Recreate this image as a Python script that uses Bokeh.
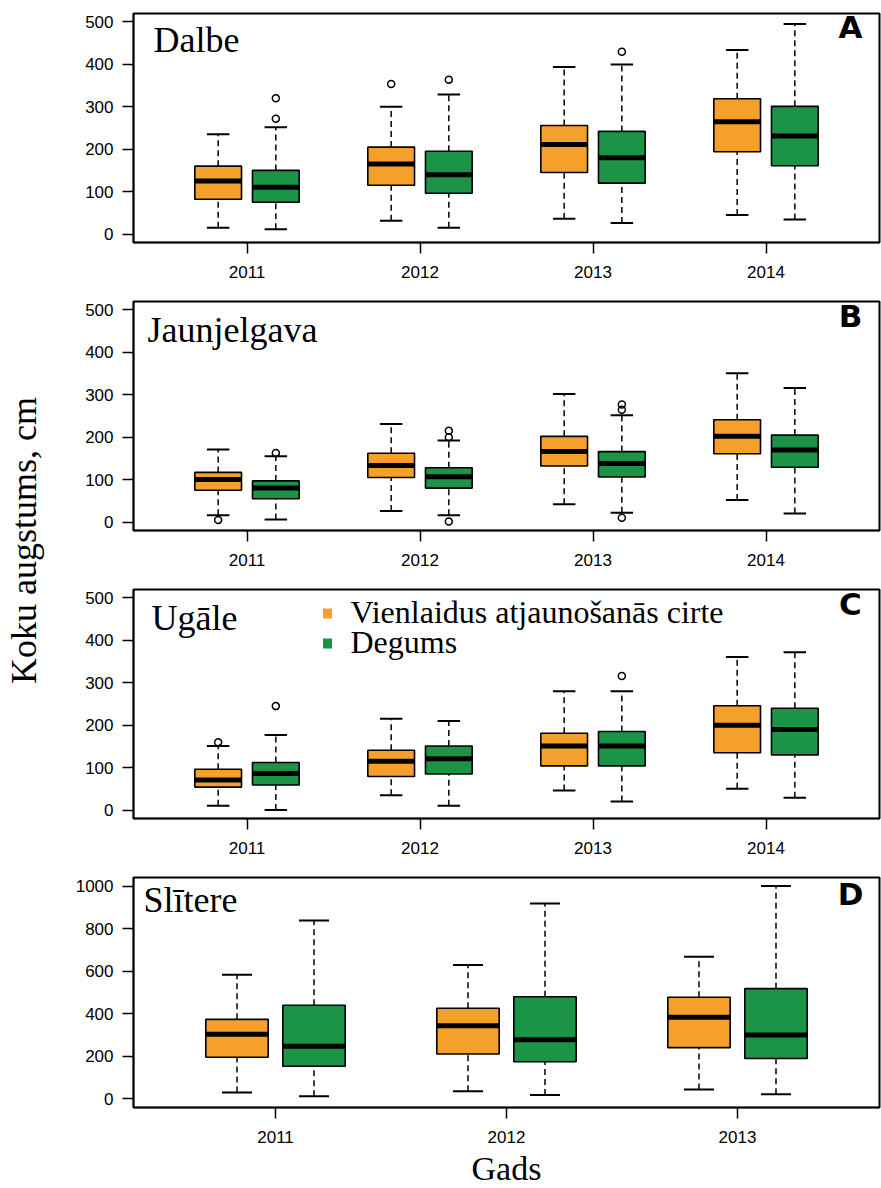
import math
from bokeh.plotting import figure
from bokeh.layouts import row, column
from bokeh.models import Range1d, FixedTicker, Label
from bokeh.embed import file_html
from bokeh.resources import INLINE

ORANGE = "#F6A02C"
GREEN = "#1B9447"

# ---------------- data ----------------
years_abc = ["2011", "2012", "2013", "2014"]
years_d = ["2011", "2012", "2013"]
series_names = ["Vienlaidus atjaunošanās cirte", "Degums"]
panel_names = ["Dalbe", "Jaunjelgava", "Ugāle", "Slītere"]
panel_letters = ["A", "B", "C", "D"]
yticks_abc = [0, 100, 200, 300, 400, 500]
yticks_d = [0, 200, 400, 600, 800, 1000]

# boxes: [lower whisker, Q1, median, Q3, upper whisker]
dalbe_vien = [[15, 82, 125, 160, 235], [31, 115, 165, 205, 300],
              [36, 145, 211, 256, 394], [45, 194, 265, 319, 434]]
dalbe_deg = [[11, 75, 110, 150, 252], [15, 96, 140, 195, 329],
             [26, 120, 180, 242, 400], [34, 161, 231, 301, 495]]
dalbe_vien_out = [[], [354], [], []]
dalbe_deg_out = [[272, 320], [364], [430], []]

jaun_vien = [[16, 75, 100, 117, 171], [26, 105, 133, 162, 231],
             [42, 132, 166, 202, 302], [52, 161, 202, 241, 351]]
jaun_deg = [[6, 55, 80, 97, 155], [16, 80, 107, 128, 192],
            [22, 106, 138, 166, 252], [20, 129, 170, 205, 316]]
jaun_vien_out = [[5], [], [], []]
jaun_deg_out = [[163], [1, 200, 215], [10, 265, 277], []]

ugale_vien = [[10, 54, 71, 96, 151], [35, 79, 115, 141, 215],
              [46, 104, 151, 181, 280], [50, 135, 200, 246, 361]]
ugale_deg = [[0, 59, 86, 112, 177], [10, 85, 121, 151, 210],
             [20, 104, 151, 185, 280], [29, 130, 190, 240, 372]]
ugale_vien_out = [[160], [], [], []]
ugale_deg_out = [[245], [], [316], []]

slit_vien = [[30, 196, 304, 374, 583], [36, 211, 344, 426, 629],
             [44, 241, 384, 478, 668]]
slit_deg = [[13, 154, 248, 440, 838], [19, 175, 278, 480, 918],
            [22, 190, 300, 518, 1000]]
slit_vien_out = [[], [], []]
slit_deg_out = [[], [], []]

# ---------------- layout constants ----------------
LEFT_W = 50
PANEL_W = 831
BORDER_L = 83
BORDER_R = 2
FRAME_W = PANEL_W - BORDER_L - BORDER_R
BOX_W = 0.27
CAP_W = 0.13
OFFSET = 1.0 / 6.0
BASE_SHIFT = 0.33  # em offset correction for alphabetic baseline


def x_range_for(n):
    half = FRAME_W / 2.0 / (173.0 if n == 4 else 231.0)
    mid = (n + 1) / 2.0
    return (mid - half, mid + half)


def draw_series(p, boxes, outs, color, offset):
    xs = [i + 1 + offset for i in range(len(boxes))]
    low = [b[0] for b in boxes]
    q1 = [b[1] for b in boxes]
    med = [b[2] for b in boxes]
    q3 = [b[3] for b in boxes]
    high = [b[4] for b in boxes]
    p.segment(x0=xs, y0=q3, x1=xs, y1=high, line_color="black",
              line_width=1.5, line_dash="6 4")
    p.segment(x0=xs, y0=low, x1=xs, y1=q1, line_color="black",
              line_width=1.5, line_dash="6 4")
    p.segment(x0=[x - CAP_W / 2 for x in xs], y0=high,
              x1=[x + CAP_W / 2 for x in xs], y1=high,
              line_color="black", line_width=2)
    p.segment(x0=[x - CAP_W / 2 for x in xs], y0=low,
              x1=[x + CAP_W / 2 for x in xs], y1=low,
              line_color="black", line_width=2)
    p.vbar(x=xs, width=BOX_W, bottom=q1, top=q3, fill_color=color,
           line_color="black", line_width=1.6)
    p.segment(x0=[x - BOX_W / 2 for x in xs], y0=med,
              x1=[x + BOX_W / 2 for x in xs], y1=med,
              line_color="black", line_width=5)
    ox, oy = [], []
    for x, o in zip(xs, outs):
        for v in o:
            ox.append(x)
            oy.append(v)
    if ox:
        p.scatter(x=ox, y=oy, marker="circle", size=7, fill_color=None,
                  line_color="black", line_width=1.5)


def make_panel(idx, years, yticks, yr, series, outs, height, bottom,
               title_dx, title_dy, letter_dy):
    n = len(years)
    xr = x_range_for(n)
    frame_h = height - 13 - bottom
    p = figure(width=PANEL_W, height=height,
               x_range=Range1d(*xr), y_range=Range1d(*yr),
               output_backend="svg", toolbar_location=None,
               min_border_left=BORDER_L, min_border_right=BORDER_R,
               min_border_top=13, min_border_bottom=bottom)
    p.xgrid.visible = False
    p.ygrid.visible = False
    p.outline_line_color = "black"
    p.outline_line_width = 2
    p.background_fill_color = "white"
    p.border_fill_color = "white"

    p.xaxis.ticker = FixedTicker(ticks=list(range(1, n + 1)))
    p.xaxis.major_label_overrides = {i + 1: y for i, y in enumerate(years)}
    p.yaxis.ticker = FixedTicker(ticks=yticks)
    for ax in (p.xaxis, p.yaxis):
        ax.axis_line_color = "black"
        ax.axis_line_width = 1.5
        ax.major_tick_line_color = "black"
        ax.major_tick_line_width = 1.5
        ax.major_tick_out = 11
        ax.major_tick_in = 0
        ax.minor_tick_line_color = None
        ax.major_label_text_font = "Liberation Sans"
        ax.major_label_text_font_size = "17px"
        ax.major_label_text_color = "black"
    p.xaxis.major_label_standoff = 12
    p.yaxis.major_label_standoff = 9

    for s, (boxes, o, color) in enumerate(zip(series, outs, [ORANGE, GREEN])):
        draw_series(p, boxes, o, color, -OFFSET if s == 0 else OFFSET)

    def dx(px):
        return xr[0] + px / FRAME_W * (xr[1] - xr[0])

    def dy(py):
        return yr[1] - py / frame_h * (yr[1] - yr[0])

    p.add_layout(Label(x=dx(title_dx), y=dy(title_dy - BASE_SHIFT * 36),
                       text=panel_names[idx],
                       text_font="Liberation Serif", text_font_size="36px",
                       text_color="black", text_align="left",
                       text_baseline="alphabetic"))
    p.add_layout(Label(x=dx(717), y=dy(letter_dy - BASE_SHIFT * 31),
                       text=panel_letters[idx],
                       text_font="DejaVu Sans", text_font_style="bold",
                       text_font_size="31px", text_color="black",
                       text_align="center", text_baseline="alphabetic"))
    return p, dx, dy


pA, _, _ = make_panel(0, years_abc, yticks_abc, (-20, 520),
                      [dalbe_vien, dalbe_deg], [dalbe_vien_out, dalbe_deg_out],
                      288, 46, 20, 38, 24)
pB, _, _ = make_panel(1, years_abc, yticks_abc, (-20, 520),
                      [jaun_vien, jaun_deg], [jaun_vien_out, jaun_deg_out],
                      288, 46, 14, 40, 25)
pC, cdx, cdy = make_panel(2, years_abc, yticks_abc, (-20, 520),
                          [ugale_vien, ugale_deg], [ugale_vien_out, ugale_deg_out],
                          288, 46, 18, 40, 25)
pD, ddx, ddy = make_panel(3, years_d, yticks_d, (-40, 1040),
                          [slit_vien, slit_deg], [slit_vien_out, slit_deg_out],
                          284, 41, 10, 34, 27)

# legend in panel C
for k, (name, color) in enumerate(zip(series_names, [ORANGE, GREEN])):
    pC.rect(x=[cdx(194)], y=[cdy(24 + 30 * k)], width=9, height=10,
            width_units="screen", height_units="screen",
            fill_color=color, line_color=None)
    pC.add_layout(Label(x=cdx(217), y=cdy(33 + 30 * k - BASE_SHIFT * 32),
                        text=name,
                        text_font="Liberation Serif", text_font_size="32px",
                        text_color="black", text_align="left",
                        text_baseline="alphabetic"))

# x-axis title strip under panel D
STRIP_H = 40
pG = figure(width=PANEL_W, height=STRIP_H, x_range=Range1d(*x_range_for(3)),
            y_range=Range1d(0, STRIP_H), output_backend="svg",
            toolbar_location=None, x_axis_type=None, y_axis_type=None,
            min_border_left=BORDER_L, min_border_right=BORDER_R,
            min_border_top=0, min_border_bottom=0)
pG.outline_line_color = None
pG.xgrid.visible = False
pG.ygrid.visible = False
pG.add_layout(Label(x=2, y=20, text="Gads",
                    text_font="Liberation Serif", text_font_size="34px",
                    text_color="black", text_align="center",
                    text_baseline="alphabetic"))

# y-axis title column
pY = figure(width=LEFT_W, height=1188, x_range=Range1d(0, LEFT_W),
            y_range=Range1d(0, 1188), output_backend="svg",
            toolbar_location=None, x_axis_type=None, y_axis_type=None,
            min_border=0, min_border_left=0, min_border_right=0,
            min_border_top=0, min_border_bottom=0)
pY.outline_line_color = None
pY.xgrid.visible = False
pY.ygrid.visible = False
pY.add_layout(Label(x=23, y=1188 - 540, text="Koku augstums, cm",
                    angle=math.pi / 2, text_font="Liberation Serif",
                    text_font_size="36px", text_color="black",
                    text_align="center", text_baseline="alphabetic"))

layout = row(pY, column(pA, pB, pC, pD, pG))

with open("out.html", "w") as f:
    f.write(file_html(layout, INLINE))
